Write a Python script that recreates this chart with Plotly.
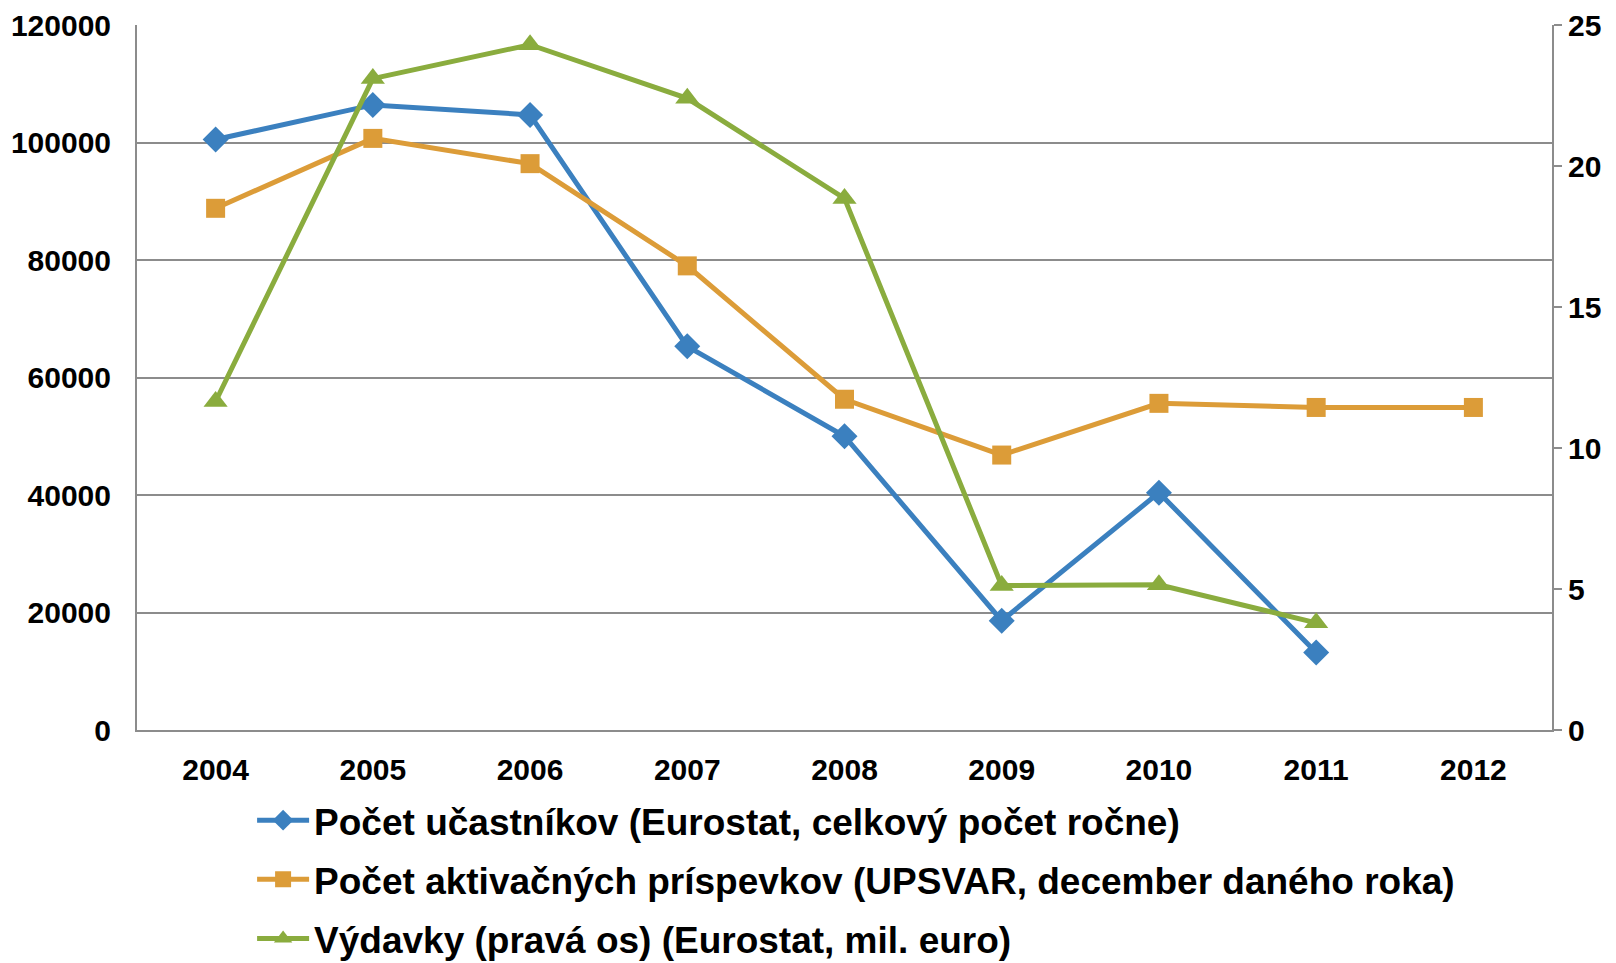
import plotly.graph_objects as go

years = ["2004", "2005", "2006", "2007", "2008", "2009", "2010", "2011", "2012"]
ucastnici = [100500, 106400, 104700, 65300, 50000, 18600, 40400, 13200, None]
prispevky = [88800, 100700, 96400, 79000, 56300, 46800, 55600, 54900, 54900]
vydavky = [11.65, 23.1, 24.3, 22.4, 18.85, 5.12, 5.15, 3.8, None]

names = [
    "Počet učastníkov (Eurostat, celkový počet ročne)",
    "Počet aktivačných príspevkov (UPSVAR, december daného roka)",
    "Výdavky (pravá os) (Eurostat, mil. euro)",
]
colors = ["#3B80BF", "#DC9C38", "#8AAC3E"]

FONT = "Liberation Sans, Arial, sans-serif"

fig = go.Figure()
fig.add_trace(go.Scatter(
    x=years, y=ucastnici, name=names[0], mode="lines+markers",
    line=dict(color=colors[0], width=5),
    marker=dict(symbol="diamond", size=20, color=colors[0]),
    legendgroup="a", yaxis="y"))
fig.add_trace(go.Scatter(
    x=years, y=prispevky, name=names[1], mode="lines+markers",
    line=dict(color=colors[1], width=5),
    marker=dict(symbol="square", size=19, color=colors[1]),
    legendgroup="b", yaxis="y"))
fig.add_trace(go.Scatter(
    x=years, y=vydavky, name=names[2], mode="lines+markers",
    line=dict(color=colors[2], width=5),
    marker=dict(symbol="triangle-up", size=21, color=colors[2]),
    legendgroup="c", yaxis="y2"))

tf = dict(family=FONT, size=30, color="black", weight="bold")

fig.update_layout(
    width=1608, height=955,
    paper_bgcolor="white", plot_bgcolor="white",
    margin=dict(l=129, r=64, t=17, b=233, autoexpand=False),
    font=dict(family=FONT, size=30, color="black", weight="bold"),
    showlegend=True,
    legend=dict(
        xref="container", yref="container",
        x=0.1518, y=0.1815, xanchor="left", yanchor="top",
        font=dict(family=FONT, size=37, color="black", weight="bold"),
        tracegroupgap=8, itemwidth=52,
        bgcolor="rgba(0,0,0,0)",
    ),
    xaxis=dict(
        type="category", categoryorder="array", categoryarray=years,
        showgrid=False, showline=True, linecolor="#8C8C8C", linewidth=2,
        ticks="", ticklabelstandoff=12, tickangle=0,
        tickfont=tf,
        range=[-0.5, 8.5],
    ),
    yaxis=dict(
        range=[0, 120000], tickvals=[0, 20000, 40000, 60000, 80000, 100000, 120000],
        tickformat="d",
        showgrid=True, gridcolor="#8C8C8C", gridwidth=1.5,
        showline=True, linecolor="#8C8C8C", linewidth=2,
        ticks="", ticklabelstandoff=18, zeroline=False,
        tickfont=tf,
    ),
    yaxis2=dict(
        range=[0, 25], tickvals=[0, 5, 10, 15, 20, 25],
        overlaying="y", side="right",
        showgrid=False, showline=True, linecolor="#8C8C8C", linewidth=2,
        ticks="outside", ticklen=8, tickcolor="#8C8C8C", tickwidth=2,
        ticklabelstandoff=0, zeroline=False,
        tickfont=tf,
    ),
)

fig.write_html("out.html")
